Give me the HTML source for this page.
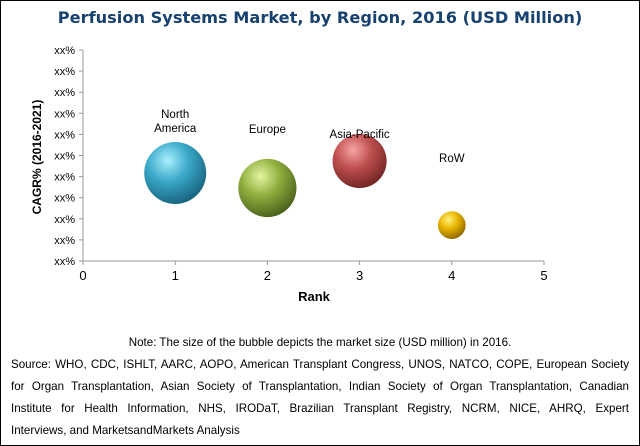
<!DOCTYPE html>
<html><head><meta charset="utf-8"><style>
body{margin:0;background:#fff}
#wrap{position:relative;width:638px;height:444px;border:1px solid #000;background:#fff;overflow:hidden;font-family:"Liberation Sans",Arial,sans-serif}
#title{position:absolute;left:0;top:7px;width:638px;text-align:center;font-family:"DejaVu Sans",sans-serif;font-weight:bold;font-size:16.2px;color:#17416e}
#notes{position:absolute;left:10px;top:331px;width:618px;font-size:11.6px;color:#000;line-height:22px}
#notes div{text-align:justify;text-align-last:justify;white-space:nowrap}
</style></head><body>
<div id="wrap">
<div id="title">Perfusion Systems Market, by Region, 2016 (USD Million)</div>
<svg id="chart" width="638" height="320" style="position:absolute;left:0;top:0">
<defs>
<radialGradient id="g0" cx="0.38" cy="0.3" r="0.75"><stop offset="0" stop-color="#a8f0ff"/><stop offset="0.45" stop-color="#3aa8c8"/><stop offset="1" stop-color="#16607a"/></radialGradient>
<radialGradient id="g1" cx="0.38" cy="0.3" r="0.75"><stop offset="0" stop-color="#e4f6a0"/><stop offset="0.45" stop-color="#8fae3e"/><stop offset="1" stop-color="#465c18"/></radialGradient>
<radialGradient id="g2" cx="0.38" cy="0.3" r="0.75"><stop offset="0" stop-color="#f6a4a4"/><stop offset="0.45" stop-color="#bf4f4f"/><stop offset="1" stop-color="#6e2222"/></radialGradient>
<radialGradient id="g3" cx="0.38" cy="0.3" r="0.75"><stop offset="0" stop-color="#fff27a"/><stop offset="0.45" stop-color="#e8b400"/><stop offset="1" stop-color="#8a6400"/></radialGradient>
</defs>
</svg>
<div id="notes">
<div style="text-align:center;text-align-last:center">Note: The size of the bubble depicts the market size (USD million) in 2016.</div>
<div>Source: WHO, CDC, ISHLT, AARC, AOPO, American Transplant Congress, UNOS, NATCO, COPE, European Society</div>
<div>for Organ Transplantation, Asian Society of Transplantation, Indian Society of Organ Transplantation, Canadian</div>
<div>Institute for Health Information, NHS, IRODaT, Brazilian Transplant Registry, NCRM, NICE, AHRQ, Expert</div>
<div style="text-align:left;text-align-last:left">Interviews, and MarketsandMarkets Analysis</div>
</div>
</div>
<script>
const regions=["North America","Europe","Asia-Pacific","RoW"];
const ranks=[1,2,3,4];
const cagr=[4.17,3.46,4.74,1.7];
const sizes=[100,88,76,20];
const xTicks=[0,1,2,3,4,5];
const yTickLabels=["xx%","xx%","xx%","xx%","xx%","xx%","xx%","xx%","xx%","xx%","xx%"];
const svg=document.getElementById('chart');
const NS="http://www.w3.org/2000/svg";
const x0=82,x1=543,yb=260,yt=49;
const xs=v=>x0+(x1-x0)*v/5;
const ys=v=>yb-(yb-yt)*v/10;
const rs=s=>31*Math.sqrt(s/100);
function mk(t,a){const e=document.createElementNS(NS,t);for(const k in a)e.setAttribute(k,a[k]);svg.appendChild(e);return e;}
let e=mk('line',{x1:x0,y1:yt,x2:x0,y2:yb,stroke:'#999','stroke-width':1});


e=mk('line',{x1:x0,y1:yb,x2:x1,y2:yb,stroke:'#999','stroke-width':1});


yTickLabels.forEach((l,i)=>{const y=ys(i);
 mk('line',{x1:x0-4,y1:y,x2:x0,y2:y,stroke:'#999'});
 const t=mk('text',{x:x0-8,y:y+4,'text-anchor':'end','font-size':'11',fill:'#000'});t.textContent=l;
 
 });
xTicks.forEach(v=>{const x=xs(v);
 mk('line',{x1:x,y1:yb,x2:x,y2:yb+4,stroke:'#999'});
 const t=mk('text',{x:x,y:yb+19,'text-anchor':'middle','font-size':'13',fill:'#000'});t.textContent=v;
 
 });
let t=mk('text',{x:313,y:300,'text-anchor':'middle','font-size':'13','font-weight':'bold'});t.textContent='Rank';


t=mk('text',{x:0,y:0,'text-anchor':'middle','font-size':'12','font-weight':'bold',transform:'translate(40,156) rotate(-90)'});t.textContent='CAGR%  (2016-2021)';


regions.forEach((r,i)=>{const cx=xs(ranks[i]),cy=ys(cagr[i]),rr=rs(sizes[i]);
 const c=mk('circle',{cx:cx,cy:cy,r:rr,fill:'url(#g'+i+')'});
 
 
});
const lab=[["North","America"],["Europe"],["Asia-Pacific"],["RoW"]];
const labY=[[117,131],[132],[137],[161]];
lab.forEach((ls,i)=>{ls.forEach((s,j)=>{const tt=mk('text',{x:xs(ranks[i]),y:labY[i][j],'text-anchor':'middle','font-size':'11.5',fill:'#000'});tt.textContent=s;
 
 });});
</script>
</body></html>
